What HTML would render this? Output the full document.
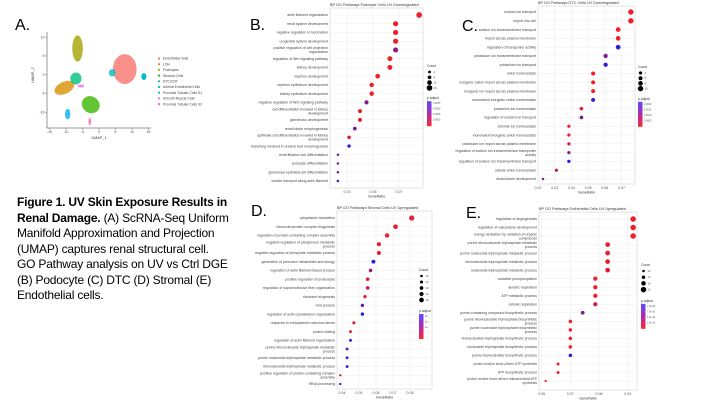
<!DOCTYPE html>
<html><head><meta charset="utf-8">
<style>
html,body{margin:0;padding:0;background:#fff;}
body{width:720px;height:405px;overflow:hidden;position:relative;font-family:"Liberation Sans",sans-serif;}
.lab{position:absolute;font-family:"Liberation Sans",sans-serif;font-size:16px;color:#000;}
#caption{position:absolute;left:17px;top:195px;white-space:nowrap;font-size:12px;line-height:15.5px;color:#000;font-family:"Liberation Sans",sans-serif;letter-spacing:-0.2px;}
svg{position:absolute;left:0;top:0;}
</style></head>
<body>
<svg id="chart" width="720" height="405" viewBox="0 0 720 405"></svg>
<div class="lab" style="left:15px;top:17px">A.</div>
<div class="lab" style="left:250px;top:17px">B.</div>
<div class="lab" style="left:462px;top:18px">C.</div>
<div class="lab" style="left:251px;top:203px">D.</div>
<div class="lab" style="left:466px;top:205px">E.</div>
<div id="caption"><b>Figure 1. UV Skin Exposure Results in</b><br><b>Renal Damage.</b> (A) ScRNA-Seq Uniform<br>Manifold Approximation and Projection<br>(UMAP) captures renal structural cell.<br>GO Pathway analysis on UV vs Ctrl DGE<br>(B) Podocyte (C) DTC (D) Stromal (E)<br>Endothelial cells.</div>
<script>
// ---- Panel A (UMAP) data ----
const umapNames = ["Endothelial Cells","LOH","Podocytes","Stromal Cells","DTC/CNT","Arterial Endothelial Cells","Proximal Tubular Cells S1","Smooth Muscle Cells","Proximal Tubular Cells S2"];
const umapColors = ["#f8766d","#d89000","#a3a500","#39b600","#00bf7d","#00bfc4","#00b0f6","#e76bf3","#ff62bc"];
const umapCX = [7.8,-10.5,-6.5,-2.5,-7,4,-9.5,-5.5,-2.8];
const umapCY = [1.5,-3.5,7,-8,-1,0.5,-10.5,-3,-12.5];
const umapRX = [3.6,3.2,1.6,2.8,1.7,1,0.8,1,0.4];
const umapRY = [4.0,1.6,3.5,2.2,1.6,1,1.4,0.4,1];
const umapRot = [0,-25,0,35,0,0,0,0,0];
const extraCX = [13.6]; const extraCY = [-0.5];

// ---- Panel B ----
const bLabels = ["actin filament organization","renal system development","negative regulation of locomotion","urogenital system development","positive regulation of cell projection\norganization","regulation of Wnt signaling pathway","kidney development","nephron development","nephron epithelium development","kidney epithelium development","negative regulation of Wnt signaling pathway","cell differentiation involved in kidney\ndevelopment","glomerulus development","renal tubule morphogenesis","epithelial cell differentiation involved in kidney\ndevelopment","branching involved in ureteric bud morphogenesis","renal filtration cell differentiation","podocyte differentiation","glomerular epithelial cell differentiation","vesicle transport along actin filament"];
const bRatio = [0.0855,0.0674,0.0674,0.0674,0.0674,0.063,0.063,0.0536,0.049,0.049,0.045,0.040,0.040,0.036,0.0316,0.0316,0.023,0.023,0.023,0.023];
const bPadj = [0,0,0,0,0.5,0,0,0,0,0,0.55,0.05,0.05,0.6,0.1,0.9,0.6,0.6,0.6,0.9];
const bCount = [16,14,14,14,14,13,13,12,11,11,10,9,9,8,7,7,3,3,3,3];
const bTicks = [0.03,0.05,0.07];
const bTickLabels = ["0.03","0.05","0.07"];
const bLegend = [4,8,12,16];

// ---- Panel C ----
const cLabels = ["sodium ion transport","import into cell","sodium ion transmembrane transport","import across plasma membrane","regulation of transporter activity","potassium ion transmembrane transport","potassium ion transport","anion homeostasis","inorganic cation import across plasma membrane","inorganic ion import across plasma membrane","monovalent inorganic cation homeostasis","potassium ion homeostasis","regulation of sodium ion transport","chloride ion homeostasis","monovalent inorganic anion homeostasis","potassium ion import across plasma membrane","regulation of sodium ion transmembrane transporter\nactivity","regulation of sodium ion transmembrane transport","cellular anion homeostasis","distal tubule development"];
const cRatio = [0.0756,0.0756,0.068,0.068,0.068,0.0605,0.0605,0.053,0.053,0.053,0.053,0.046,0.046,0.0385,0.0385,0.0385,0.0385,0.0385,0.031,0.023];
const cPadj = [0,0,0,0,0.95,0.5,0.9,0,0,0,0.85,0.05,0.55,0,0,0.2,0.5,0.95,0.3,0.6];
const cCount = [10,10,8,8,8,7,7,6,6,6,6,5,5,4,4,4,4,4,4,2];
const cTicks = [0.02,0.03,0.04,0.05,0.06,0.07];
const cTickLabels = ["0.02","0.03","0.04","0.05","0.06","0.07"];
const cLegend = [4,6,8,10];

// ---- Panel D ----
const dLabels = ["cytoplasmic translation","ribonucleoprotein complex biogenesis","regulation of protein-containing complex assembly","negative regulation of phosphorus metabolic\nprocess","negative regulation of phosphate metabolic process","generation of precursor metabolites and energy","regulation of actin filament-based process","positive regulation of proteolysis","regulation of supramolecular fiber organization","ribosome biogenesis","viral process","regulation of actin cytoskeleton organization","response to endoplasmic reticulum stress","protein folding","regulation of actin filament organization","purine ribonucleoside triphosphate metabolic\nprocess","purine nucleoside triphosphate metabolic process","ribonucleoside triphosphate metabolic process","positive regulation of protein-containing complex\nassembly","tRNA processing"];
const dRatio = [0.081,0.0715,0.0665,0.0617,0.0617,0.0585,0.0568,0.0551,0.0551,0.0535,0.052,0.052,0.047,0.045,0.045,0.043,0.043,0.043,0.039,0.039];
const dPadj = [0.05,0.05,0.05,0.05,0.05,0.95,0.4,0.05,0.2,0.05,0.6,0.95,0.1,0.05,0.9,0.75,0.9,0.9,0.3,0.9];
const dCount = [20,18,17,16,16,15,14,14,14,13,13,13,12,11,11,11,11,11,9,9];
const dTicks = [0.04,0.05,0.06,0.07,0.08];
const dTickLabels = ["0.04","0.05","0.06","0.07","0.08"];
const dLegend = [10,12,14,16,18];

// ---- Panel E ----
const eLabels = ["regulation of angiogenesis","regulation of vasculature development","energy derivation by oxidation of organic\ncompounds","purine ribonucleoside triphosphate metabolic\nprocess","purine nucleoside triphosphate metabolic process","ribonucleoside triphosphate metabolic process","nucleoside triphosphate metabolic process","oxidative phosphorylation","aerobic respiration","ATP metabolic process","cellular respiration","purine-containing compound biosynthetic process","purine ribonucleoside triphosphate biosynthetic\nprocess","purine nucleoside triphosphate biosynthetic\nprocess","ribonucleoside triphosphate biosynthetic process","nucleoside triphosphate biosynthetic process","purine ribonucleotide biosynthetic process","proton motive force-driven ATP synthesis","ATP biosynthetic process","proton motive force-driven mitochondrial ATP\nsynthesis"];
const eRatio = [0.0919,0.0919,0.0919,0.083,0.083,0.083,0.083,0.0787,0.0787,0.0787,0.0787,0.0743,0.070,0.070,0.070,0.070,0.070,0.0657,0.0657,0.0614];
const ePadj = [0,0,0,0.05,0.05,0.05,0.1,0,0,0,0.15,0.6,0,0,0,0,0.95,0,0,0];
const eCount = [22,22,22,19,19,19,19,17,17,17,17,15,14,14,14,14,14,12,12,9];
const eTicks = [0.06,0.07,0.08,0.09];
const eTickLabels = ["0.06","0.07","0.08","0.09"];
const eLegend = [10,14,18,22];

const NS = "http://www.w3.org/2000/svg";
const svg = document.getElementById("chart");
function mk(tag, attrs, parent){
  const e = document.createElementNS(NS, tag);
  for (const k in attrs) e.setAttribute(k, attrs[k]);
  (parent||svg).appendChild(e);
  return e;
}
function padjColor(t){
  const r = Math.round(240 - t*210), g = 30, b = Math.round(40 + t*190);
  return "rgb("+r+","+g+","+b+")";
}

const defs = mk("defs", {});
const grad = mk("linearGradient", {id:"padj", x1:"0", y1:"0", x2:"0", y2:"1"}, defs);
mk("stop", {offset:"0", "stop-color":"#5a4cff"}, grad);
mk("stop", {offset:"0.5", "stop-color":"#b02ab0"}, grad);
mk("stop", {offset:"1", "stop-color":"#ff2a2a"}, grad);

function drawDotPanel(cfg){
  const g = mk("g", {});
  
  
  const xs = v => cfg.px0 + (v - cfg.v0) * cfg.slope;
  const n = cfg.labels.length;
  const ys = i => cfg.yFirst + i * (cfg.yLast - cfg.yFirst) / (n - 1);
  const bg = mk("rect", {x:cfg.L, y:cfg.T, width:cfg.R-cfg.L, height:cfg.B-cfg.T, fill:"#fff", stroke:"#c8c8c8", "stroke-width":0.5}, g);
  
  
  cfg.ticks.forEach((t,k)=>{
    mk("line", {x1:xs(t), x2:xs(t), y1:cfg.T, y2:cfg.B, stroke:"#ececec", "stroke-width":0.5}, g);
    const tl = mk("text", {x:xs(t), y:cfg.B+5, "font-size":3.6, "text-anchor":"middle", fill:"#555"}, g);
    tl.textContent = cfg.tickLabels[k];
    
    
  });
  for (let i=0;i<n;i++){
    mk("line", {x1:cfg.L, x2:cfg.R, y1:ys(i), y2:ys(i), stroke:"#ececec", "stroke-width":0.5}, g);
    const parts = cfg.labels[i].split("\n");
    const t = mk("text", {x:cfg.L-2, y:ys(i)+1.2 - (parts.length-1)*2, "font-size":3.5, "text-anchor":"end", fill:"#444"}, g);
    
    
    parts.forEach((p,j)=>{ const ts = mk("tspan", {x:cfg.L-2, dy: j===0?0:4}, t); ts.textContent = p; });
  }
  for (let i=0;i<n;i++){
    const c = mk("circle", {cx:xs(cfg.ratio[i]), cy:ys(i), r:cfg.rk*cfg.count[i]+cfg.r0, fill:padjColor(cfg.padj[i])}, g);
    
    
  }
  const title = mk("text", {x:cfg.L, y:cfg.T-2, "font-size":3.8, fill:"#333"}, g);
  title.textContent = cfg.title;
  
  
  const xt = mk("text", {x:(cfg.L+cfg.R)/2, y:cfg.B+9.5, "font-size":3.6, "text-anchor":"middle", fill:"#333"}, g);
  xt.textContent = "GeneRatio";
  
  
  const lg = mk("g", {}, g);
  
  
  const ct = mk("text", {x:cfg.lx, y:cfg.ly, "font-size":3.4, fill:"#333"}, lg);
  ct.textContent = "Count";
  cfg.legend.forEach((v,k)=>{
    const yy = cfg.ly + 5 + k*cfg.lstep;
    const lc = mk("circle", {cx:cfg.lx+2.5, cy:yy, r:cfg.rk*v+cfg.r0, fill:"#000"}, lg);
    
    
    const lt = mk("text", {x:cfg.lx+6.5, y:yy+1, "font-size":2.8, fill:"#555"}, lg);
    lt.textContent = v;
  });
  const py = cfg.ly + 5 + cfg.legend.length*cfg.lstep + 6;
  const pt = mk("text", {x:cfg.lx, y:py, "font-size":3.4, fill:"#333"}, lg);
  pt.textContent = "p.adjust";
  const cb = mk("rect", {x:cfg.lx, y:py+2, width:4.5, height:25, fill:"url(#padj)"}, lg);
  
  
  cfg.cbLabels.forEach((s,k)=>{
    const tt = mk("text", {x:cfg.lx+6, y:py+5+k*5.5, "font-size":2.4, fill:"#555"}, lg);
    tt.textContent = s;
  });
}

drawDotPanel({name:"panel-b-podocyte-dotplot", labels:bLabels, ratio:bRatio, padj:bPadj, count:bCount, ticks:bTicks, tickLabels:bTickLabels, legend:bLegend,
  L:330, R:423, T:8, B:188, yFirst:15, yLast:181, v0:0.03, px0:347, slope:1300, rk:0.12, r0:0.9,
  title:"BP GO Pathways Podocyte Cells UV Downregulated", lx:427, ly:67, lstep:5.3, cbLabels:["0.0075","0.0050","0.0025","0.0000"]});
drawDotPanel({name:"panel-c-dtc-dotplot", labels:cLabels, ratio:cRatio, padj:cPadj, count:cCount, ticks:cTicks, tickLabels:cTickLabels, legend:cLegend,
  L:538, R:635, T:6, B:184, yFirst:12, yLast:179, v0:0.02, px0:538, slope:1670, rk:0.18, r0:0.9,
  title:"BP GO Pathways DTC Cells UV Downregulated", lx:638, ly:68, lstep:5.2, cbLabels:["0.0020","0.0015","0.0010","0.0005"]});
drawDotPanel({name:"panel-d-stromal-dotplot", labels:dLabels, ratio:dRatio, padj:dPadj, count:dCount, ticks:dTicks, tickLabels:dTickLabels, legend:dLegend,
  L:337, R:432, T:211, B:389, yFirst:218, yLast:384, v0:0.04, px0:342, slope:1700, rk:0.13, r0:0,
  title:"BP GO Pathways Stromal Cells UV Upregulated", lx:419, ly:271, lstep:6, cbLabels:["3e-","2e-","1e-"]});
drawDotPanel({name:"panel-e-endothelial-dotplot", labels:eLabels, ratio:eRatio, padj:ePadj, count:eCount, ticks:eTicks, tickLabels:eTickLabels, legend:eLegend,
  L:539, R:637, T:212, B:390, yFirst:219, yLast:381, v0:0.06, px0:541.7, slope:2867, rk:0.125, r0:0,
  title:"BP GO Pathways Endothelial Cells UV Upregulated", lx:641, ly:266, lstep:6.2, cbLabels:["1.0e-09","7.5e-10","5.0e-10","2.5e-10"]});

(function(){
  const g = mk("g", {});
  
  
  const ux = v => 99 + v*3.3;
  const uy = v => 74.7 - v*3.75;
  mk("line", {x1:47, y1:32, x2:47, y2:128, stroke:"#333", "stroke-width":0.5}, g);
  mk("line", {x1:47, y1:128, x2:151, y2:128, stroke:"#333", "stroke-width":0.5}, g);
  [-15,-10,-5,0,5,10,15].forEach(v=>{
    mk("line", {x1:ux(v), x2:ux(v), y1:128, y2:129.5, stroke:"#333", "stroke-width":0.4}, g);
    const t = mk("text", {x:ux(v), y:133, "font-size":3.4, "text-anchor":"middle", fill:"#444"}, g); t.textContent = v;
  });
  [10,5,0,-5,-10].forEach(v=>{
    mk("line", {x1:45.5, x2:47, y1:uy(v), y2:uy(v), stroke:"#333", "stroke-width":0.4}, g);
    const t = mk("text", {x:44.5, y:uy(v)+1.1, "font-size":3.4, "text-anchor":"end", fill:"#444"}, g); t.textContent = v;
  });
  const xl = mk("text", {x:99, y:139, "font-size":3.8, "text-anchor":"middle", fill:"#333"}, g); xl.textContent = "UMAP_1";
   
  const yl = mk("text", {x:0, y:0, "font-size":3.8, "text-anchor":"middle", fill:"#333", transform:"translate(34,75) rotate(-90)"}, g); yl.textContent = "UMAP_2";
   
  umapNames.forEach((nm,i)=>{
    const e = mk("ellipse", {cx:ux(umapCX[i]), cy:uy(umapCY[i]), rx:umapRX[i]*3.3, ry:umapRY[i]*3.75, fill:umapColors[i], opacity:0.8,
      transform:"rotate("+umapRot[i]+" "+ux(umapCX[i])+" "+uy(umapCY[i])+")"}, g);
    
    
  });
  const ex = mk("ellipse", {cx:ux(extraCX[0]), cy:uy(extraCY[0]), rx:2.5, ry:3.5, fill:umapColors[5]}, g);
  
  
  umapNames.forEach((nm,i)=>{
    const yy = 58.5 + i*5.7;
    const d = mk("circle", {cx:159, cy:yy, r:1.1, fill:umapColors[i]}, g);
    
    
    const t = mk("text", {x:163, y:yy+1.2, "font-size":3.4, fill:"#444"}, g); t.textContent = nm;
  });
})();
</script>
</body></html>
